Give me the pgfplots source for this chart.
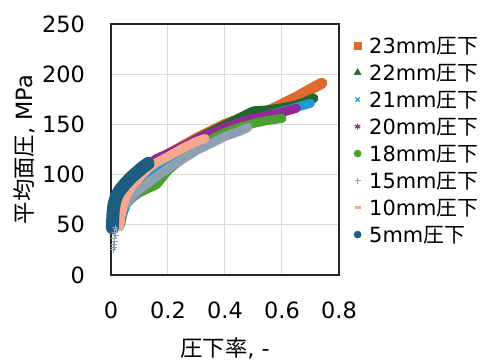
\documentclass[border=0pt]{standalone}
\usepackage{pgfplots}
\pgfplotsset{compat=1.18}
\usepackage{fontspec}
\setmainfont{DejaVu Sans}
\newfontfamily\jp{Noto Sans CJK JP}
\definecolor{c23}{RGB}{221,108,44}
\definecolor{c22}{RGB}{31,105,46}
\definecolor{c21}{RGB}{30,155,212}
\definecolor{c20}{RGB}{148,40,148}
\definecolor{c18}{RGB}{76,160,50}
\definecolor{c15}{RGB}{142,160,180}
\definecolor{c10}{RGB}{242,169,142}
\definecolor{c5}{RGB}{29,94,128}
\definecolor{gridc}{RGB}{217,217,217}
\pgfplotsset{lim/.style={legend image code/.code={\draw[##1, only marks] plot coordinates {(0bp,2bp)};}}}
\begin{document}
\begin{tikzpicture}
\path[use as bounding box] (-111bp,-85bp) rectangle (385bp,275bp);
\begin{axis}[
  scale only axis, width=228bp, height=251bp,
  xmin=0, xmax=0.8, ymin=0, ymax=250,
  xtick={0,0.2,0.4,0.6,0.8}, xticklabels={0,0.2,0.4,0.6,0.8},
  ytick={0,50,100,150,200,250},
  major tick length=0pt,
  grid=major, major grid style={gridc, line width=1bp},
  axis line style={black!85, line width=1.2bp},
  clip=false,
  /pgf/number format/assume math mode=true,
  tick label style={font=\fontsize{22.5}{26}\selectfont},
  xticklabel style={anchor=center, inner sep=0pt, yshift=-35bp},
  yticklabel style={anchor=east, inner sep=0pt, xshift=-26bp},
  xlabel={{\jp 圧下率}, -},
  ylabel={{\jp 平均面圧}, MPa},
  xlabel style={anchor=center, at={(axis description cs:0.5,0)}, yshift=-73bp, font=\fontsize{22.5}{26}\selectfont},
  ylabel style={anchor=center, at={(axis description cs:0,0.5)}, yshift=87bp, font=\fontsize{22.5}{26}\selectfont},
  legend style={at={(1.066,0.944)}, anchor=north west, draw=none, fill=none,
    inner sep=0pt, outer sep=0pt, row sep=8bp, column sep=8bp,
    font=\fontsize{21}{24}\selectfont,
    nodes={inner sep=0pt, text height=15bp, text depth=4bp}},
  legend cell align=left,
]
\addlegendimage{mark=square*, c23, mark size=3.2bp, lim}
\addlegendimage{mark=triangle*, c22, mark size=4bp, lim}
\addlegendimage{mark=x, c21, mark size=3bp, line width=1.2bp, lim}
\addlegendimage{mark=asterisk, c20, mark size=3bp, line width=1.2bp, lim}
\addlegendimage{mark=*, c18, mark size=3.6bp, lim}
\addlegendimage{mark=+, c15, mark size=3bp, line width=1bp, lim}
\addlegendimage{mark=-, c10, mark size=3bp, line width=2.2bp, lim}
\addlegendimage{mark=*, c5, mark size=3.6bp, lim}
\legend{23mm{\jp 圧下},22mm{\jp 圧下},21mm{\jp 圧下},20mm{\jp 圧下},18mm{\jp 圧下},15mm{\jp 圧下},10mm{\jp 圧下},5mm{\jp 圧下}}
% 23mm
\addplot[forget plot, c23, line width=11bp, line join=round, line cap=round] coordinates {
(0.03,50)(0.04,63)(0.06,78)(0.1,96)(0.15,110)(0.2,120)(0.25,128)(0.3,136)(0.35,143)(0.4,150)(0.45,155)(0.5,159)(0.55,163)(0.6,170)(0.65,177)(0.7,185)(0.74,191)};
% 22mm
\addplot[forget plot, c22, line width=10bp, line join=round, line cap=round] coordinates {
(0.03,50)(0.04,63)(0.06,78)(0.1,95)(0.15,108)(0.2,118)(0.25,127)(0.3,135)(0.35,142)(0.4,149)(0.45,156)(0.5,163)(0.55,164)(0.6,166)(0.65,169)(0.68,172)(0.71,176)};
% 21mm
\addplot[forget plot, c21, line width=9bp, line join=round, line cap=round] coordinates {
(0.03,48)(0.04,60)(0.06,75)(0.1,90)(0.15,100)(0.2,109)(0.25,118)(0.3,127)(0.35,135)(0.4,143)(0.45,150)(0.5,155)(0.55,159)(0.6,163)(0.65,167)(0.7,171)};
% 20mm
\addplot[forget plot, c20, line width=9bp, line join=round, line cap=round] coordinates {
(0.03,50)(0.04,65)(0.06,80)(0.1,100)(0.13,110)(0.16,116)(0.2,121)(0.25,128)(0.3,135)(0.35,141)(0.4,147)(0.45,152)(0.5,156)(0.55,159)(0.6,162)(0.65,166)};
% 18mm
\addplot[forget plot, c18, line width=9bp, line join=round, line cap=round] coordinates {
(0.025,55)(0.035,62)(0.05,70)(0.08,78)(0.1,82)(0.13,86)(0.16,90)(0.18,97)(0.2,104)(0.25,116)(0.3,127)(0.35,135)(0.4,142)(0.45,147)(0.5,151)(0.55,154)(0.6,156)};
% 15mm
\addplot[forget plot, c15, line width=9bp, line join=round, line cap=round] coordinates {
(0.02,50)(0.03,60)(0.045,68)(0.07,77)(0.1,85)(0.15,96)(0.2,106)(0.25,115)(0.3,124)(0.35,131)(0.4,138)(0.45,143)(0.48,147)};
\addplot[forget plot, only marks, mark=+, c15, mark size=3bp, line width=1bp] coordinates {
(0.008,25)(0.012,27)(0.01,30)(0.014,33)(0.011,36)(0.016,39)(0.013,42)(0.018,45)(0.015,47)};
% 10mm
\addplot[forget plot, c10, line width=9bp, line join=round, line cap=round] coordinates {
(0.03,48)(0.035,58)(0.042,68)(0.055,80)(0.077,90)(0.1,97)(0.13,106)(0.16,112)(0.2,118)(0.25,126)(0.3,133)(0.33,136)};
% 5mm
\addplot[forget plot, c5, line width=13bp, line join=round, line cap=round] coordinates {
(0.005,47)(0.006,55)(0.008,65)(0.012,72)(0.02,79)(0.03,84)(0.05,91)(0.07,97)(0.09,102)(0.11,107)(0.125,110)(0.13,111)};
\end{axis}
\end{tikzpicture}
\end{document}
